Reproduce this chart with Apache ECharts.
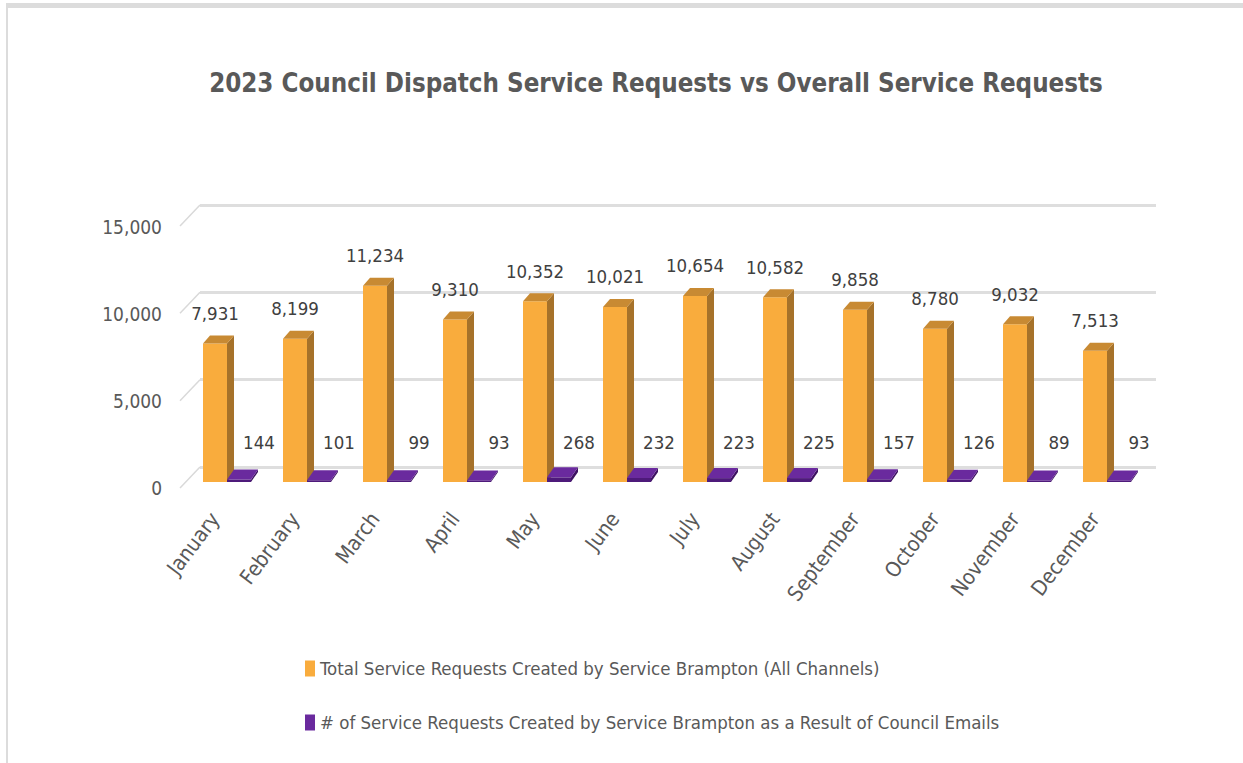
<!DOCTYPE html>
<html>
<head>
<meta charset="utf-8">
<script src="https://cdn.jsdelivr.net/npm/echarts@6/dist/echarts.min.js"></script>
<style>
html,body{margin:0;padding:0;background:#fff;}
#chart{width:1243px;height:763px;}
</style>
</head>
<body>
<div id="chart"></div>
<script>
const months = ['January','February','March','April','May','June','July','August','September','October','November','December'];
const totalRequests = [7931, 8199, 11234, 9310, 10352, 10021, 10654, 10582, 9858, 8780, 9032, 7513];
const councilRequests = [144, 101, 99, 93, 268, 232, 223, 225, 157, 126, 89, 93];
const yTicks = [0, 5000, 10000, 15000];
const seriesNames = ['Total Service Requests Created by Service Brampton (All Channels)', '# of Service Requests Created by Service Brampton as a Result of Council Emails'];
const titleText = '2023 Council Dispatch Service Requests vs Overall Service Requests';

const FONT = "'DejaVu Sans Condensed','Liberation Sans',sans-serif";
const fmt = v => v.toLocaleString('en-US');

function make3DBar(colors, side, labelDx, labelDy) {
  return function (params, api) {
    const i = api.value(0), v = api.value(1);
    const base = api.coord([i, 0]);
    const top = api.coord([i, v]);
    const bw = api.size([1, 0])[0];
    const w = bw * 0.3;
    const cx = base[0];
    const x0 = side === 'left' ? cx - w : cx;
    const x1 = x0 + w;
    const yb = base[1], yt = top[1];
    const dx = 7, dy = side === 'left' ? -8 : -10;
    const children = [
      {type:'rect', shape:{x:x0, y:yt, width:w, height:yb-yt}, style:{fill:colors.front}},
      {type:'polygon', shape:{points:[[x1,yt],[x1+dx,yt+dy],[x1+dx,yb+dy],[x1,yb]]}, style:{fill:colors.side}},
      {type:'polygon', shape:{points:[[x0,yt],[x0+dx,yt+dy],[x1+dx,yt+dy],[x1,yt]]}, style:{fill:colors.top}},
      {type:'text', style:{text:fmt(v), x:(x0+x1)/2 + labelDx, y: (labelDy === null ? yt - 30 : yb + labelDy),
        align:'center', verticalAlign:'middle', font:'18.5px ' + FONT, fill:'#404040'}}
    ];
    return {type:'group', children};
  };
}

const chart = echarts.init(document.getElementById('chart'), null, {renderer:'svg'});
chart.setOption({
  animation:false,
  backgroundColor:'#ffffff',
  title:{text:titleText, left:651, top:65, textAlign:'center',
    textStyle:{fontFamily:FONT, fontWeight:'bold', fontSize:25.7, color:'#595959'}},
  legend:{orient:'vertical', left:300, top:654, itemWidth:10, itemHeight:16, itemGap:35, icon:'rect',
    textStyle:{fontFamily:FONT, fontSize:18.5, color:'#595959'},
    data:seriesNames},
  graphic:[
    {type:'rect', shape:{x:6, y:3, width:1237, height:5}, style:{fill:'#dcdcdc'}},
    {type:'rect', shape:{x:6, y:3, width:2, height:760}, style:{fill:'#dcdcdc'}}
  ],
  grid:[
    {left:187, right:96, top:220, bottom:281},
    {left:200, right:87, top:205, bottom:296},
    {left:180, right:87, top:227, bottom:275},
    {left:175, right:108, top:220, bottom:281}
  ],
  xAxis:[
    {type:'category', gridIndex:0, data:months, show:false},
    {type:'value', gridIndex:1, min:0, max:1, show:false},
    {type:'value', gridIndex:2, min:0, max:1, show:false},
    {type:'category', gridIndex:3, data:months, axisLine:{show:false}, axisTick:{show:false},
      axisLabel:{rotate:53, margin:33, interval:0, fontFamily:FONT, fontSize:21, color:'#595959'}}
  ],
  yAxis:[
    {type:'value', gridIndex:0, min:0, max:15000, interval:5000, show:false},
    {type:'value', gridIndex:1, min:0, max:15000, interval:5000, axisLabel:{show:false},
      axisLine:{show:false}, axisTick:{show:false}, splitLine:{show:true, lineStyle:{color:'#dedede', width:3}}},
    {type:'value', gridIndex:2, min:0, max:15000, interval:5000, axisLine:{show:false}, axisTick:{show:false},
      splitLine:{show:false},
      axisLabel:{margin:18, formatter:v => fmt(v), fontFamily:FONT, fontSize:19, color:'#595959'}},
    {type:'value', gridIndex:3, min:0, max:15000, show:false}
  ],
  series:[
    {type:'custom', name:'slant', xAxisIndex:1, yAxisIndex:1, silent:true,
      data:yTicks.map(t => [0, t]),
      renderItem:(params, api) => {
        const p = api.coord([0, api.value(1)]);
        return {type:'line', shape:{x1:p[0], y1:p[1], x2:p[0]-20, y2:p[1]+21},
          style:{stroke:'#d9d9d9', lineWidth:1.5}};
      }},
    {type:'custom', name:seriesNames[0], xAxisIndex:0, yAxisIndex:0,
      itemStyle:{color:'#F9AC3D'},
      data:totalRequests.map((v, i) => [i, v]),
      renderItem:make3DBar({front:'#F9AC3D', side:'#A6722A', top:'#C88A33'}, 'left', 0, null)},
    {type:'custom', name:seriesNames[1], xAxisIndex:0, yAxisIndex:0,
      itemStyle:{color:'#6A2A9E'},
      data:councilRequests.map((v, i) => [i, v]),
      renderItem:make3DBar({front:'#4E1A7A', side:'#3E1262', top:'#6A2A9E'}, 'right', 20, -40)}
  ]
});
</script>
</body>
</html>
